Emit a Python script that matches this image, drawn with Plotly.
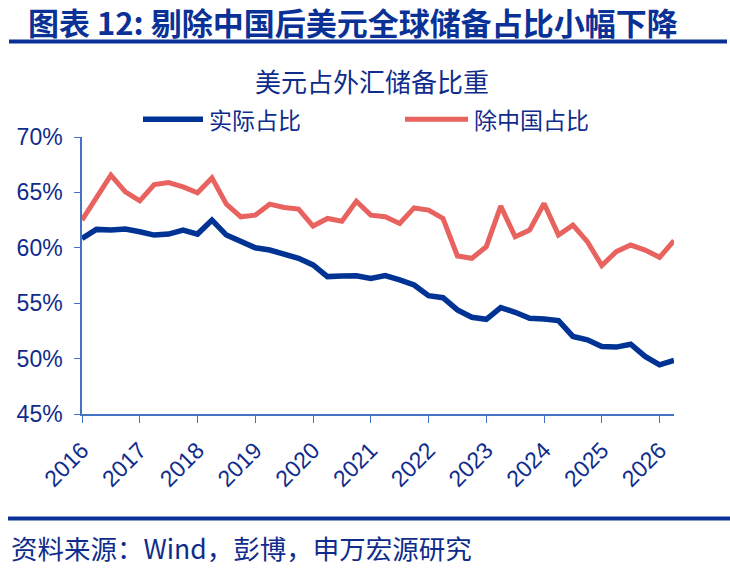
import plotly.graph_objects as go

# Quarterly data, 2016Q1 .. 2026Q2 (42 points)
x_start = 2016
n_points = 42
actual_share = [60.85, 61.66, 61.6, 61.69, 61.45, 61.15, 61.24, 61.6, 61.24, 62.5,
                61.15, 60.55, 60.0, 59.8, 59.44, 59.05, 58.45, 57.4, 57.45, 57.48,
                57.24, 57.5, 57.1, 56.64, 55.68, 55.5, 54.4, 53.73, 53.55, 54.6,
                54.18, 53.64, 53.58, 53.43, 52.0, 51.7, 51.1, 51.04, 51.3, 50.2,
                49.44, 49.83]
ex_china_share = [62.5, 64.45, 66.55, 65.05, 64.24, 65.71, 65.89, 65.5, 64.96, 66.31,
                  63.94, 62.8, 62.95, 63.94, 63.64, 63.49, 61.96, 62.65, 62.4, 64.2,
                  62.95, 62.8, 62.2, 63.6, 63.4, 62.65, 59.26, 59.05, 60.1, 63.76,
                  61.0, 61.6, 64.0, 61.15, 62.05, 60.55, 58.4, 59.65, 60.25, 59.8,
                  59.14, 60.64]
year_ticks = list(range(2016, 2027))
pct_ticks = [45, 50, 55, 60, 65, 70]
x_vals = [x_start + i * 0.25 for i in range(n_points)]

NAVY = "#003393"
RED = "#E8625F"
TEXT = "#0F2C8C"
AXIS = "#4472C4"
FONT = "Liberation Sans, Arial, Noto Sans CJK SC, sans-serif"
CJK = "Noto Sans CJK SC, Liberation Sans, sans-serif"

fig = go.Figure()
fig.add_trace(go.Scatter(x=x_vals, y=ex_china_share, mode="lines", name="除中国占比",
                         line=dict(color=RED, width=5), showlegend=False))
fig.add_trace(go.Scatter(x=x_vals, y=actual_share, mode="lines", name="实际占比",
                         line=dict(color=NAVY, width=5.5), showlegend=False))

# plot area in pixels
L, R, T, B = 82, 674, 136.7, 414.3
W, H = R - L, B - T
def px(x):
    return (x - L) / W
def py(y):
    return (B - y) / H

shapes = [
    dict(type="line", xref="paper", yref="paper", x0=px(9), x1=px(727), y0=py(41), y1=py(41),
         line=dict(color="#0A3296", width=4)),
    dict(type="line", xref="paper", yref="paper", x0=px(8), x1=px(730), y0=py(519), y1=py(519),
         line=dict(color="#0A3296", width=4)),
    dict(type="line", xref="paper", yref="paper", x0=px(143), x1=px(203), y0=py(119), y1=py(119),
         line=dict(color=NAVY, width=5.5)),
    dict(type="line", xref="paper", yref="paper", x0=px(405), x1=px(468), y0=py(119), y1=py(119),
         line=dict(color=RED, width=5)),
]

annotations = [
    dict(text="<b>图表 12: 剔除中国后美元全球储备占比小幅下降</b>", xref="paper", yref="paper",
         x=px(26), y=py(21), xanchor="left", yanchor="middle", showarrow=False,
         font=dict(family=CJK, size=31, color="#0A3296")),
    dict(text="美元占外汇储备比重", xref="paper", yref="paper",
         x=px(372), y=py(80), xanchor="center", yanchor="middle", showarrow=False,
         font=dict(family=CJK, size=26, color=TEXT)),
    dict(text="实际占比", xref="paper", yref="paper",
         x=px(207), y=py(119), xanchor="left", yanchor="middle", showarrow=False,
         font=dict(family=CJK, size=23, color=TEXT)),
    dict(text="除中国占比", xref="paper", yref="paper",
         x=px(472), y=py(119), xanchor="left", yanchor="middle", showarrow=False,
         font=dict(family=CJK, size=23, color=TEXT)),
    dict(text="资料来源：Wind，彭博，申万宏源研究", xref="paper", yref="paper",
         x=px(9), y=py(548), xanchor="left", yanchor="middle", showarrow=False,
         font=dict(family=CJK, size=26.5, color=TEXT)),
]

fig.update_layout(
    width=730, height=570,
    margin=dict(l=L, r=730 - R, t=T, b=570 - B),
    paper_bgcolor="white", plot_bgcolor="white",
    shapes=shapes, annotations=annotations,
    font=dict(family=FONT, color=TEXT),
)
fig.update_xaxes(range=[2016, 2026.25], tickvals=year_ticks, ticktext=[str(y) for y in year_ticks],
                 tickangle=-45, ticks="outside", ticklen=7, tickcolor=AXIS, tickwidth=1,
                 showline=True, linecolor=AXIS, linewidth=1.5, showgrid=False, zeroline=False,
                 tickfont=dict(family=FONT, size=23, color=TEXT), ticklabelstandoff=5)
fig.update_yaxes(range=[45, 70], tickvals=pct_ticks, ticktext=[f"{v}%" for v in pct_ticks],
                 ticks="outside", ticklen=6, tickcolor=AXIS, tickwidth=1,
                 showline=True, linecolor=AXIS, linewidth=1.5, showgrid=False, zeroline=False,
                 tickfont=dict(family=FONT, size=23, color=TEXT), ticklabelstandoff=7)

fig.write_html("out.html")
